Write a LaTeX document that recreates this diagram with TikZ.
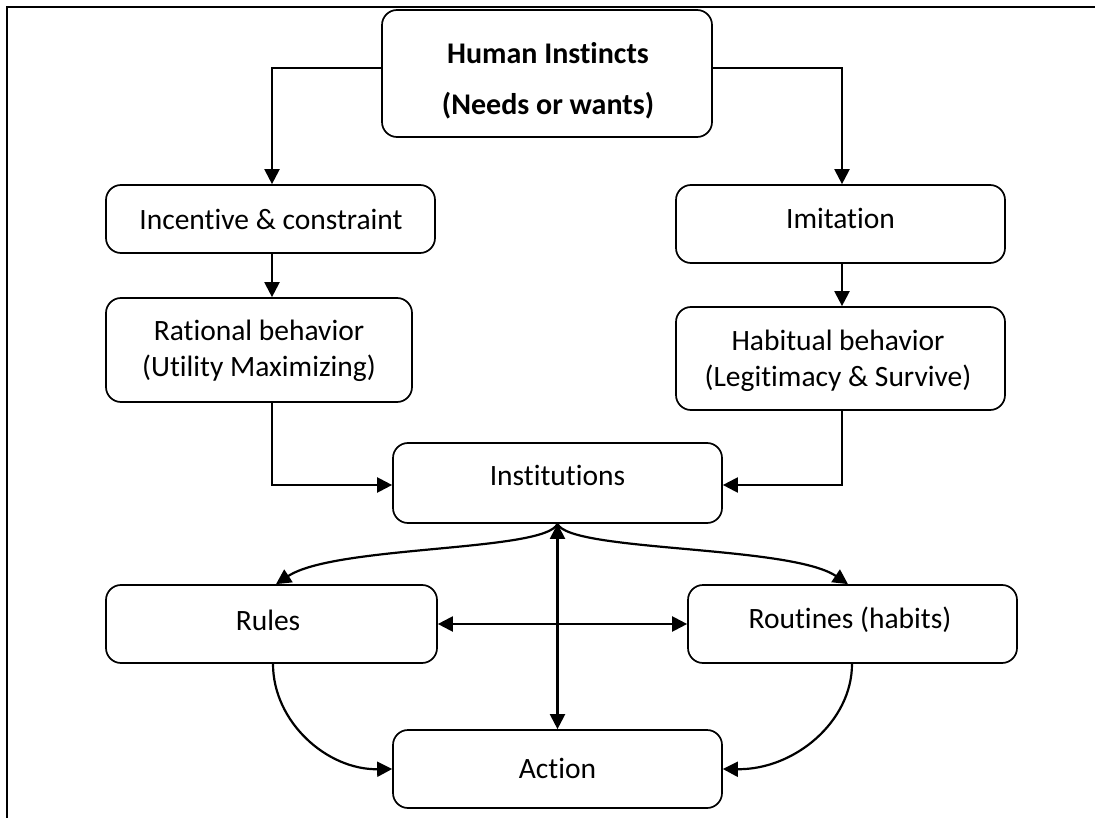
\documentclass[tikz,border=0pt]{standalone}
\usepackage{fontspec}
\setmainfont{Carlito}[Ligatures={NoCommon,NoContextual}]
\usetikzlibrary{arrows.meta}
\begin{document}
\begin{tikzpicture}[x=1pt,y=-1pt,
  box/.style={draw=black,line width=1.7pt,rounded corners=15pt,inner sep=0pt},
  txt/.style={inner sep=0pt,font=\fontsize{29.5}{34}\selectfont},
  htxt/.style={inner sep=0pt,font=\fontsize{30}{34}\selectfont\bfseries},
  link/.style={line width=2.2pt,-{Triangle[length=15pt,width=15pt]}},
  both/.style={line width=2.2pt,{Triangle[length=15pt,width=15pt]}-{Triangle[length=15pt,width=15pt]}}]
\useasboundingbox (0,0) rectangle (1095,818);
% open frame (left and top edges)
\draw[line width=1.3pt] (7,818) -- (7,7) -- (1095,7);
% boxes
\node[box,minimum width=330pt,minimum height=127pt] (human) at (547,73.5) {};
\node[box,minimum width=329pt,minimum height=68pt] (incent) at (270.5,219) {};
\node[box,minimum width=329pt,minimum height=78pt] (imit) at (840.5,224) {};
\node[box,minimum width=306pt,minimum height=104pt] (rational) at (259,350) {};
\node[box,minimum width=329pt,minimum height=103pt] (habit) at (840.5,358.5) {};
\node[box,minimum width=329pt,minimum height=80pt] (inst) at (557.5,483) {};
\node[box,minimum width=331pt,minimum height=78pt] (rules) at (271.5,624) {};
\node[box,minimum width=329pt,minimum height=78pt] (routines) at (852.5,624) {};
\node[box,minimum width=329pt,minimum height=78pt] (action) at (557.5,769) {};
% texts
\node[htxt] (human-a) at (548,53) {Human Instincts};
\node[htxt] (human-b) at (548,106) {(Needs or wants)};
\node[txt] (incent-t) at (271,219) {Incentive \& constraint};
\node[txt] (imit-t) at (840.5,218) {Imitation};
\node[txt] (rational-a) at (259,330) {Rational behavior};
\node[txt] (rational-b) at (259,368) {(Utility Maximizing)};
\node[txt] (habit-a) at (838,340) {Habitual behavior};
\node[txt] (habit-b) at (838,378) {(Legitimacy \& Survive)};
\node[txt] (inst-t) at (557.5,475) {Institutions};
\node[txt] (rules-t) at (268,620) {Rules};
\node[txt] (routines-t) at (850,620) {Routines (habits)};
\node[txt] (action-t) at (557.5,768) {Action};
% helper points on box edges
\coordinate (hl) at (human.west |- 0,68);
\coordinate (hr) at (human.east |- 0,68);
\coordinate (instl) at (inst.west |- 0,485);
\coordinate (instr) at (inst.east |- 0,485);
% connectors
\draw[link] (hl) -| (incent.north -| 272,0);
\draw[link] (hr) -| (imit.north -| 842,0);
\draw[link] (incent.south -| 272,0) -- (rational.north -| 272,0);
\draw[link] (imit.south -| 842,0) -- (habit.north -| 842,0);
\draw[link] (rational.south -| 272,0) |- (instl);
\draw[link] (habit.south -| 842,0) |- (instr);
\draw[link] (inst.south) .. controls (545,552) and (335,545) .. (rules.north -| 276,0);
\draw[link] (inst.south) .. controls (570,552) and (790,545) .. (routines.north -| 848,0);
\draw[both] (inst.south) -- (action.north);
\draw[both] (rules.east) -- (routines.west);
\draw[link] (rules.south -| 273,0) .. controls (273,722) and (327,770) .. (action.west);
\draw[link] (routines.south -| 852,0) .. controls (852,722) and (794,770) .. (action.east);
\end{tikzpicture}
\end{document}
